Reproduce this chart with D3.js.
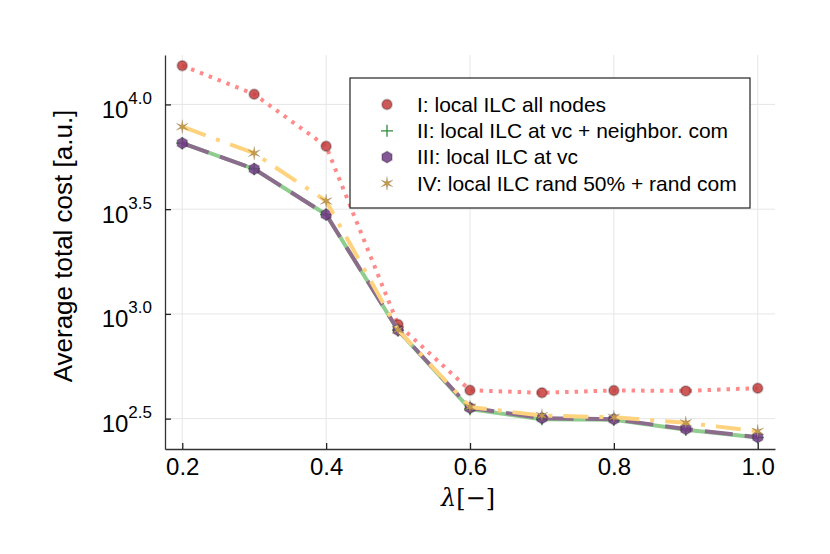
<!DOCTYPE html>
<html>
<head>
<meta charset="utf-8">
<script src="https://cdn.jsdelivr.net/npm/d3@7"></script>
<style>
  body { margin: 0; background: #fff; }
  text { font-family: "Liberation Sans", Arial, sans-serif; fill: #000; }
</style>
</head>
<body>
<div id="chart"></div>
<script>
//Data (x = lambda, y = average total cost)
var lambdas = [0.2, 0.3, 0.4, 0.5, 0.6, 0.7, 0.8, 0.9, 1.0];
var costI   = [15310, 11190, 6310, 889, 432, 420, 431, 429, 442];
var costII  = [6530, 4920, 2980, 836, 351, 314, 312, 280, 257];
var costIII = [6530, 4920, 2980, 836, 356, 318, 314, 282, 258];
var costIV  = [7830, 5850, 3460, 839, 359, 327, 321, 302, 275];

var seriesNames = [
  "I: local ILC all nodes",
  "II: local ILC at vc + neighbor. com",
  "III: local ILC at vc",
  "IV: local ILC rand 50% + rand com"
];

var xTicks = [0.2, 0.4, 0.6, 0.8, 1.0];
var yTickExps = ["2.5", "3.0", "3.5", "4.0"];

//Width and height
var w = 830;
var h = 554;
var mLeft = 165, mRight = 775, mTop = 55, mBottom = 449;

var xScale = d3.scaleLinear()
  .domain([0.176, 1.024])
  .range([mLeft, mRight]);

var yScale = d3.scaleLog()
  .domain([Math.pow(10, 2.355), Math.pow(10, 4.236)])
  .range([mBottom, mTop]);

var svg = d3.select("#chart")
  .append("svg")
  .attr("width", w)
  .attr("height", h);

//Grid lines
svg.append("g")
  .selectAll("line")
  .data(xTicks)
  .enter()
  .append("line")
  .attr("x1", function(d) { return xScale(d); })
  .attr("x2", function(d) { return xScale(d); })
  .attr("y1", mTop)
  .attr("y2", mBottom)
  .attr("stroke", "#e6e6e6")
  .attr("stroke-width", 1);

svg.append("g")
  .selectAll("line")
  .data(yTickExps)
  .enter()
  .append("line")
  .attr("x1", mLeft)
  .attr("x2", mRight)
  .attr("y1", function(d) { return yScale(Math.pow(10, +d)); })
  .attr("y2", function(d) { return yScale(Math.pow(10, +d)); })
  .attr("stroke", "#e6e6e6")
  .attr("stroke-width", 1);

//Axes
var xAxis = d3.axisBottom(xScale)
  .tickValues(xTicks)
  .tickFormat(d3.format(".1f"))
  .tickSizeInner(-6)
  .tickSizeOuter(0)
  .tickPadding(9);

var yAxis = d3.axisLeft(yScale)
  .tickValues(yTickExps.map(function(d) { return Math.pow(10, +d); }))
  .tickFormat("")
  .tickSizeInner(-6)
  .tickSizeOuter(0)
  .tickPadding(13);

var gx = svg.append("g")
  .attr("transform", "translate(0," + mBottom + ")")
  .call(xAxis);

var gy = svg.append("g")
  .attr("transform", "translate(" + mLeft + ",0)")
  .call(yAxis);

[gx, gy].forEach(function(g) {
  g.select(".domain").attr("stroke", "#333").attr("stroke-width", 1.3);
  g.selectAll(".tick line").attr("stroke", "#222").attr("stroke-width", 1.3);
});

gx.selectAll(".tick text")
  .attr("font-size", 24)
  .attr("fill", "#000");

//Y tick labels as 10^exp
gy.selectAll(".tick").each(function(d, i) {
  var t = d3.select(this).select("text")
    .attr("font-size", 24)
    .attr("fill", "#000")
    .attr("dy", 13)
    .attr("x", -13);
  t.text(null);
  t.append("tspan").text("10");
  t.append("tspan")
    .attr("font-size", 17)
    .attr("dy", -14)
    .text(yTickExps[i]);
});

//Axis labels
svg.append("text")
  .attr("transform", "translate(72,246) rotate(-90)")
  .attr("text-anchor", "middle")
  .attr("font-size", 26)
  .text("Average total cost [a.u.]");

var xl = svg.append("text")
  .attr("x", 468)
  .attr("y", 506)
  .attr("text-anchor", "middle")
  .attr("font-size", 24)
  .style("font-family", "DejaVu Serif, serif");
xl.append("tspan").attr("font-style", "italic").text("λ");
xl.append("tspan").text("[−]");

//Series definitions
var series = [
  { name: seriesNames[0], values: costI, line: "#ff8a8a", dash: "3.5,6",
    marker: "circle", fill: "#c43c3c" },
  { name: seriesNames[1], values: costII, line: "#8fcd8f", dash: null,
    marker: "plus", fill: "#2f8a3c" },
  { name: seriesNames[2], values: costIII, line: "#8b6c8d", dash: "28,12",
    marker: "hexagon", fill: "#6e3a82" },
  { name: seriesNames[3], values: costIV, line: "#ffd27e", dash: "25,11,4,11",
    marker: "star", fill: "#c39a4e" }
];

var line = d3.line()
  .x(function(d, i) { return xScale(lambdas[i]); })
  .y(function(d) { return yScale(d); });

//Marker shapes
function polygon(n, radii, rot) {
  var pts = d3.range(n).map(function(k) {
    var a = rot + k * 2 * Math.PI / n;
    return [a, radii[k % radii.length]];
  });
  return d3.lineRadial().curve(d3.curveLinearClosed)(pts);
}

function drawMarker(g, s, x, y) {
  if (s.marker === "circle") {
    g.append("circle")
      .attr("cx", x).attr("cy", y).attr("r", 5)
      .attr("fill", s.fill).attr("fill-opacity", 0.85)
      .attr("stroke", "rgba(0,0,0,0.2)").attr("stroke-width", 2);
  } else if (s.marker === "plus") {
    g.append("path")
      .attr("d", "M" + (x - 6) + "," + y + "H" + (x + 6) + "M" + x + "," + (y - 6) + "V" + (y + 6))
      .attr("stroke", s.fill).attr("stroke-width", 1.3).attr("fill", "none");
  } else if (s.marker === "hexagon") {
    g.append("path")
      .attr("transform", "translate(" + x + "," + y + ")")
      .attr("d", polygon(6, [5.8], 0))
      .attr("fill", s.fill).attr("fill-opacity", 0.85)
      .attr("stroke", "rgba(0,0,0,0.2)").attr("stroke-width", 1.6);
  } else {
    g.append("path")
      .attr("transform", "translate(" + x + "," + y + ")")
      .attr("d", polygon(12, [7, 1.8], 0))
      .attr("fill", s.fill)
      .attr("stroke", "rgba(0,0,0,0.12)").attr("stroke-width", 0.8);
  }
}

//Lines and markers
series.forEach(function(s) {
  svg.append("path")
    .datum(s.values)
    .attr("d", line)
    .attr("fill", "none")
    .attr("stroke", s.line)
    .attr("stroke-width", 4)
    .attr("stroke-dasharray", s.dash);

  var g = svg.append("g");
  s.values.forEach(function(v, i) {
    drawMarker(g, s, xScale(lambdas[i]), yScale(v));
  });
});

//Legend
var legend = svg.append("g");
legend.append("rect")
  .attr("x", 350).attr("y", 78)
  .attr("width", 400).attr("height", 130)
  .attr("fill", "#fff")
  .attr("stroke", "#222")
  .attr("stroke-width", 1.2);

series.forEach(function(s, i) {
  var yy = 104.5 + i * 26.3;
  drawMarker(legend, s, 387, yy);
  legend.append("text")
    .attr("x", 417)
    .attr("y", yy)
    .attr("dy", "0.35em")
    .attr("font-size", 21)
    .text(s.name);
});
</script>
</body>
</html>
